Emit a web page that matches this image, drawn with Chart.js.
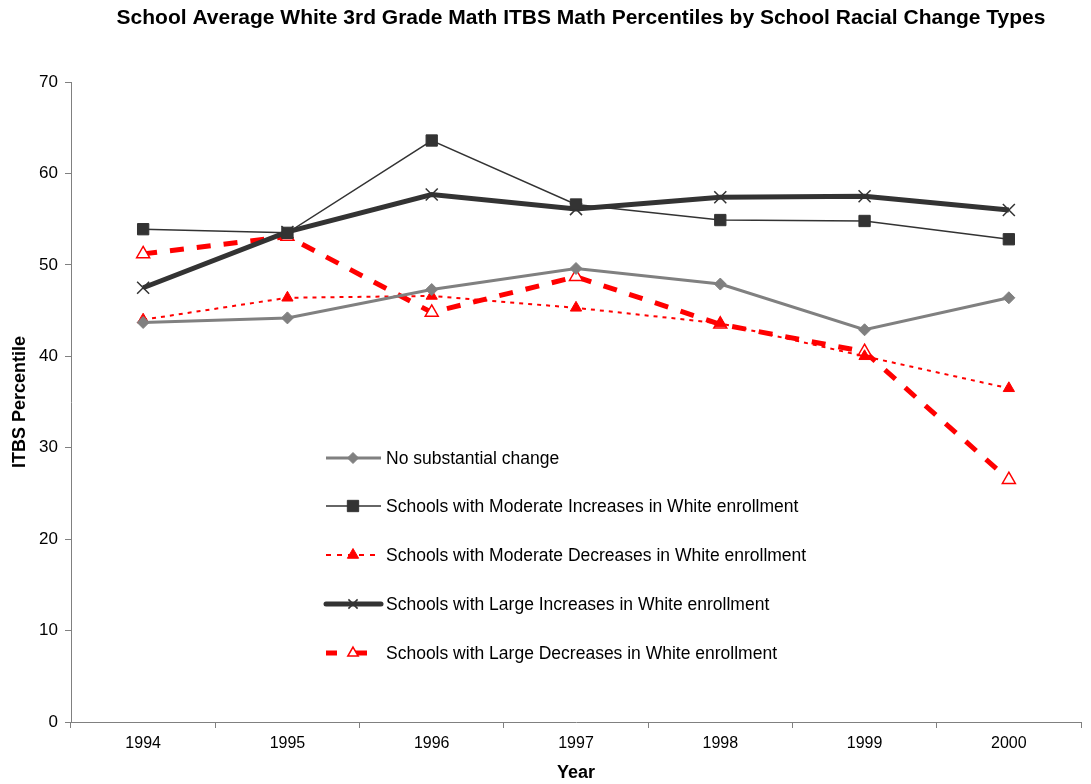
<!DOCTYPE html>
<html>
<head>
<meta charset="utf-8">
<script src="https://cdn.jsdelivr.net/npm/chart.js@4/dist/chart.umd.min.js"></script>
<style>
  html, body { margin: 0; padding: 0; background: #fff; }
  #wrap { width: 1091px; height: 784px; position: relative; }
</style>
</head>
<body>
<div id="wrap"><canvas id="c" width="1091" height="784"></canvas></div>
<script>
// Years on the category axis
const years = ['1994', '1995', '1996', '1997', '1998', '1999', '2000'];

// Average white 3rd grade ITBS math percentiles per school type
const noChange      = [43.7, 44.2, 47.3, 49.6, 47.9, 42.9, 46.4];
const modIncrease   = [53.9, 53.5, 63.6, 56.6, 54.9, 54.8, 52.8];
const modDecrease   = [44.0, 46.4, 46.6, 45.3, 43.6, 40.0, 36.5];
const largeIncrease = [47.5, 53.6, 57.7, 56.1, 57.4, 57.5, 56.0];
const largeDecrease = [51.2, 53.1, 44.8, 48.7, 43.5, 40.5, 26.5];

const yTicks = [0, 10, 20, 30, 40, 50, 60, 70];

const titleText = 'School Average White 3rd Grade Math ITBS Math Percentiles by School Racial Change Types';
const FONT = 'Arial, "Liberation Sans", sans-serif';

// Title drawn above the plot area
const titlePlugin = {
  id: 'topTitle',
  afterDraw(chart) {
    const ctx = chart.ctx;
    ctx.save();
    ctx.font = 'bold 21px ' + FONT;
    ctx.fillStyle = '#000';
    ctx.textAlign = 'center';
    ctx.textBaseline = 'middle';
    ctx.fillText(titleText, 581, 18);
    ctx.restore();
  }
};

// Legend drawn inside the plot area, one row per series
const insideLegend = {
  id: 'insideLegend',
  afterDatasetsDraw(chart) {
    const ctx = chart.ctx;
    const x0 = 326, x1 = 381, xm = 353, tx = 386;
    const rows = [458, 506, 555, 604, 653];
    chart.data.datasets.forEach((ds, i) => {
      const y = rows[i];
      ctx.save();
      ctx.strokeStyle = ds.borderColor;
      ctx.lineWidth = ds.borderWidth;
      ctx.setLineDash(ds.legendDash || ds.borderDash || []);
      ctx.lineCap = ds.borderWidth >= 4 && !ds.borderDash ? 'round' : 'butt';
      ctx.beginPath();
      ctx.moveTo(x0, y);
      ctx.lineTo(x1, y);
      ctx.stroke();
      ctx.restore();

      ctx.save();
      ctx.fillStyle = ds.pointBackgroundColor;
      ctx.strokeStyle = ds.pointBorderColor;
      ctx.lineWidth = ds.pointBorderWidth;
      Chart.helpers.drawPoint(ctx, {
        pointStyle: ds.pointStyle,
        radius: ds.legendRadius || ds.pointRadius,
        rotation: 0,
        borderWidth: ds.pointBorderWidth
      }, xm, y);
      ctx.font = '17.5px ' + FONT;
      ctx.fillStyle = '#000';
      ctx.textAlign = 'left';
      ctx.textBaseline = 'middle';
      ctx.fillText(ds.label, tx, y + 1);
      ctx.restore();
    });
  }
};

new Chart(document.getElementById('c'), {
  type: 'line',
  data: {
    labels: years,
    datasets: [
      {
        label: 'No substantial change',
        data: noChange,
        borderColor: '#808080',
        borderWidth: 3,
        pointStyle: 'rectRot',
        pointRadius: 6,
        pointBackgroundColor: '#808080',
        pointBorderColor: '#808080',
        pointBorderWidth: 1,
        legendRadius: 5.5
      },
      {
        label: 'Schools with Moderate Increases in White enrollment',
        data: modIncrease,
        borderColor: '#333333',
        borderWidth: 1.5,
        pointStyle: 'rect',
        pointRadius: 8,
        pointBackgroundColor: '#333333',
        pointBorderColor: '#333333',
        pointBorderWidth: 1
      },
      {
        label: 'Schools with Moderate Decreases in White enrollment',
        data: modDecrease,
        borderColor: '#ff0000',
        borderWidth: 2,
        borderDash: [4, 5],
        legendDash: [5, 6],
        pointStyle: 'triangle',
        pointRadius: 6.5,
        pointBackgroundColor: '#ff0000',
        pointBorderColor: '#ff0000',
        pointBorderWidth: 1
      },
      {
        label: 'Schools with Large Increases in White enrollment',
        data: largeIncrease,
        borderColor: '#333333',
        borderWidth: 5,
        pointStyle: 'crossRot',
        pointRadius: 8.5,
        pointBackgroundColor: '#333333',
        pointBorderColor: '#333333',
        pointBorderWidth: 1.5,
        legendRadius: 6.5
      },
      {
        label: 'Schools with Large Decreases in White enrollment',
        data: largeDecrease,
        borderColor: '#ff0000',
        borderWidth: 5,
        borderDash: [14, 13],
        legendDash: [11, 16, 14, 100],
        pointStyle: 'triangle',
        pointRadius: 7.5,
        pointBackgroundColor: '#ffffff',
        pointBorderColor: '#ff0000',
        pointBorderWidth: 1.5,
        legendRadius: 6
      }
    ]
  },
  options: {
    responsive: false,
    animation: false,
    devicePixelRatio: 1,
    layout: { padding: { top: 82, right: 4, left: 9, bottom: 0 } },
    plugins: {
      legend: { display: false },
      title: { display: false },
      tooltip: { enabled: false }
    },
    elements: { line: { tension: 0, fill: false } },
    scales: {
      x: {
        type: 'category',
        offset: true,
        grid: { display: true, drawOnChartArea: false, drawTicks: true, tickLength: 6, color: '#808080', offset: true },
        border: { display: true, color: '#808080', width: 1 },
        ticks: { font: { family: FONT, size: 16 }, color: '#000', padding: 6 },
        title: { display: true, text: 'Year', font: { family: FONT, size: 18, weight: 'bold' }, color: '#000', padding: { top: 0, bottom: 0 } },
        afterFit(scale) { scale.height = 62; }
      },
      y: {
        min: 0,
        max: 70,
        afterBuildTicks(scale) { scale.ticks = yTicks.map(v => ({ value: v })); },
        grid: { display: true, drawOnChartArea: false, drawTicks: true, tickLength: 6, color: '#808080' },
        border: { display: true, color: '#808080', width: 1 },
        ticks: { font: { family: FONT, size: 17 }, color: '#000', padding: 7 },
        title: { display: true, text: 'ITBS Percentile', font: { family: FONT, size: 18, weight: 'bold' }, color: '#000', padding: { top: 0, bottom: 0 } },
        afterFit(scale) { scale.width = 62; }
      }
    }
  },
  plugins: [titlePlugin, insideLegend]
});
</script>
</body>
</html>
